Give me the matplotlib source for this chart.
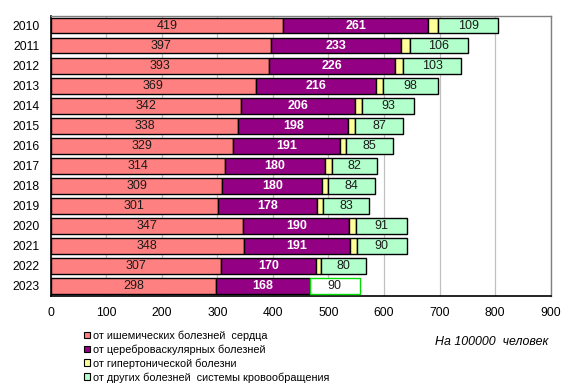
import matplotlib
matplotlib.use("Agg")
import matplotlib.pyplot as plt
from matplotlib.patches import Patch
import numpy as np

plt.rcParams['font.family'] = ['Liberation Sans', 'DejaVu Sans']

years = ["2010", "2011", "2012", "2013", "2014", "2015", "2016",
         "2017", "2018", "2019", "2020", "2021", "2022", "2023"]
ischemic = [419, 397, 393, 369, 342, 338, 329, 314, 309, 301, 347, 348, 307, 298]
cerebro = [261, 233, 226, 216, 206, 198, 191, 180, 180, 178, 190, 191, 170, 168]
hypert = [17, 16, 16, 14, 13, 12, 12, 12, 10, 11, 13, 12, 10, 0]
other = [109, 106, 103, 98, 93, 87, 85, 82, 84, 83, 91, 90, 80, 90]

series_names = ["от ишемических болезней  сердца",
                "от цереброваскулярных болезней",
                "от гипертонической болезни",
                "от других болезней  системы кровообращения"]
colors = ["#FF8080", "#930083", "#FFFF99", "#B3FFCC"]

fig = plt.figure(figsize=(5.76, 3.91), dpi=100)
ax = fig.add_axes([0.088, 0.243, 0.868, 0.717])

y = np.arange(len(years))
h = 0.78
lw = 1.0
fs = 9

left = np.zeros(len(years))
# ischemic
ax.barh(y, ischemic, left=left, height=h, color=colors[0], edgecolor="black", linewidth=lw, zorder=3)
for i, v in enumerate(ischemic):
    ax.text(left[i] + v / 2, y[i], str(v), ha="center", va="center", fontsize=fs, color="#1a1a1a", zorder=4)
left = left + np.array(ischemic)
# cerebro
ax.barh(y, cerebro, left=left, height=h, color=colors[1], edgecolor="black", linewidth=lw, zorder=3)
for i, v in enumerate(cerebro):
    ax.text(left[i] + v / 2, y[i], str(v), ha="center", va="center", fontsize=fs, color="white",
            fontweight="bold", zorder=4)
left = left + np.array(cerebro)
# hypertension
for i, v in enumerate(hypert):
    if v > 0:
        ax.barh(y[i], v, left=left[i], height=h, color=colors[2], edgecolor="black", linewidth=lw, zorder=3)
left = left + np.array(hypert)
# other
for i, v in enumerate(other):
    if years[i] == "2023":
        ax.barh(y[i], v, left=left[i], height=h, color="white", edgecolor="#00DD00", linewidth=lw, zorder=3)
    else:
        ax.barh(y[i], v, left=left[i], height=h, color=colors[3], edgecolor="black", linewidth=lw, zorder=3)
    ax.text(left[i] + v / 2, y[i], str(v), ha="center", va="center", fontsize=fs, color="#1a1a1a", zorder=4)

ax.set_xlim(0, 900)
ax.set_ylim(len(years) - 0.5, -0.5)
ax.set_xticks(np.arange(0, 901, 100))
ax.set_yticks(y)
ax.set_yticklabels(years)
ax.tick_params(axis="both", length=0, labelsize=8.7)
ax.tick_params(axis="x", pad=8)
ax.tick_params(axis="y", pad=8)
ax.xaxis.grid(True, color="#C0C0C0", linewidth=0.9, zorder=0)
ax.set_axisbelow(True)
for s in ["top", "right"]:
    ax.spines[s].set_color("#808080")
    ax.spines[s].set_linewidth(1.0)
for s in ["left", "bottom"]:
    ax.spines[s].set_color("black")
    ax.spines[s].set_linewidth(1.2)

handles = [Patch(facecolor=c, edgecolor="black", linewidth=0.8) for c in colors]
fig.legend(handles, series_names, loc="upper left", bbox_to_anchor=(0.145, 0.155),
           frameon=False, fontsize=7.8, handlelength=0.6, handleheight=0.6,
           handletextpad=0.3, labelspacing=0.32, borderpad=0, borderaxespad=0)

fig.text(0.952, 0.126, "На 100000  человек", ha="right", va="center", fontsize=8.9, style="italic")

fig.savefig("out.png", dpi=100)
